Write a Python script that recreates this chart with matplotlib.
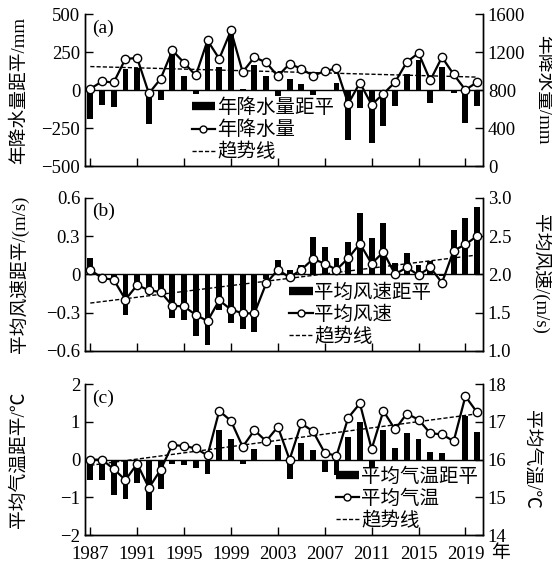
# Libraries
import numpy as np
import matplotlib
matplotlib.use("Agg")
import matplotlib.pyplot as plt
from matplotlib.lines import Line2D
from matplotlib.transforms import blended_transform_factory

# Fonts: Times-like numbers, CJK fallback
plt.rcParams['font.family'] = ['Liberation Serif', 'Noto Sans CJK SC']
plt.rcParams['axes.unicode_minus'] = True

# Data
years = list(range(1987, 2021))
year_ticks = [1987, 1991, 1995, 1999, 2003, 2007, 2011, 2015, 2019]

precip_anom = [-188, -101, -112, 140, 145, -221, -68, 255, 94, -24, 330, 151, 405, 5, 162, 96, -39,
               75, 37, -35, 3, 44, -331, -116, -348, -239, -103, 107, 199, -83, 155, -20, -217, -107]
precip = [814, 891, 881, 1130, 1137, 765, 919, 1218, 1088, 954, 1323, 1130, 1428, 990, 1147, 1091, 947,
          1077, 1025, 951, 1000, 1028, 656, 877, 646, 761, 884, 1095, 1190, 902, 1147, 965, 803, 884]

wind_anom = [0.126, -0.01, -0.03, -0.315, -0.084, -0.145, -0.15, -0.342, -0.355, -0.484, -0.552, -0.276,
             -0.381, -0.429, -0.455, -0.04, 0.113, 0.034, 0.071, 0.292, 0.213, 0.129, 0.25, 0.481, 0.287,
             0.40, 0.087, 0.166, 0.071, 0.108, -0.01, 0.35, 0.44, 0.526]
wind = [2.06, 1.95, 1.93, 1.67, 1.86, 1.79, 1.77, 1.59, 1.58, 1.47, 1.39, 1.66, 1.54, 1.49, 1.49, 1.88, 2.06,
        1.96, 2.06, 2.20, 2.14, 2.06, 2.21, 2.40, 2.14, 2.29, 2.00, 2.09, 1.99, 2.09, 1.89, 2.31, 2.39, 2.50]

temp_anom = [-0.54, -0.54, -0.95, -1.04, -0.63, -1.33, -0.78, -0.12, -0.14, -0.21, -0.38, 0.78, 0.54, -0.12,
             0.28, 0.0, 0.38, -0.51, 0.45, 0.26, -0.33, -0.40, 0.61, 0.99, -0.20, 0.79, 0.32, 0.71, 0.55,
             0.19, 0.17, -0.01, 1.17, 0.74]
temp = [16.0, 16.0, 15.75, 15.46, 15.89, 15.25, 15.73, 16.39, 16.36, 16.30, 16.11, 17.29, 17.03, 16.34, 16.78,
        16.49, 16.87, 16.0, 16.96, 16.75, 16.18, 16.10, 17.11, 17.49, 16.28, 17.29, 16.80, 17.22, 17.06,
        16.70, 16.67, 16.49, 17.68, 17.25]

# Panel settings
panels = [
    dict(tag="(a)", anom=precip_anom, vals=precip,
         left_lim=(-500, 500), left_ticks=[-500, -250, 0, 250, 500], left_fmt="{:.0f}",
         right_lim=(0, 1600), right_ticks=[0, 400, 800, 1200, 1600], right_fmt="{:.0f}",
         left_label="年降水量距平/mm", right_label="年降水量/mm",
         names=["年降水量距平", "年降水量", "趋势线"],
         pos=[0.154, 0.706, 0.721, 0.269], leg=(0.268, 0.445), rlab=1.15),
    dict(tag="(b)", anom=wind_anom, vals=wind,
         left_lim=(-0.6, 0.6), left_ticks=[-0.6, -0.3, 0, 0.3, 0.6], left_fmt="{:g}",
         right_lim=(1.0, 3.0), right_ticks=[1.0, 1.5, 2.0, 2.5, 3.0], right_fmt="{:.1f}",
         left_label="平均风速距平/(m/s)", right_label="平均风速/(m/s)",
         names=["平均风速距平", "平均风速", "趋势线"],
         pos=[0.154, 0.379, 0.721, 0.271], leg=(0.513, 0.44), rlab=1.145),
    dict(tag="(c)", anom=temp_anom, vals=temp,
         left_lim=(-2, 2), left_ticks=[-2, -1, 0, 1, 2], left_fmt="{:.0f}",
         right_lim=(14, 18), right_ticks=[14, 15, 16, 17, 18], right_fmt="{:.0f}",
         left_label="平均气温距平/℃", right_label="平均气温/℃",
         names=["平均气温距平", "平均气温", "趋势线"],
         pos=[0.154, 0.053, 0.721, 0.267], leg=(0.63, 0.445), rlab=1.12),
]

fig = plt.figure(figsize=(5.52, 5.65), dpi=100)

for i, p in enumerate(panels):

    # Axes: bars on the left scale, line on the right scale
    ax = fig.add_axes(p["pos"])
    ax2 = ax.twinx()

    ax.bar(years, p["anom"], width=0.5, color="black", zorder=2)
    ax.axhline(0, color="black", lw=1, zorder=1)

    # Trend line from a linear fit
    coef = np.polyfit(years, p["vals"], 1)
    ax2.plot(years, np.polyval(coef, years), color="black", lw=1, ls=(0, (3, 1.5)), zorder=3)
    ax2.plot(years, p["vals"], color="black", lw=1.6, marker="o", ms=6,
             mfc="white", mec="black", mew=1, zorder=4)

    # Limits and ticks
    ax.set_xlim(1986.55, 2020.5)
    ax.set_ylim(*p["left_lim"])
    ax2.set_ylim(*p["right_lim"])
    ax.set_xticks(year_ticks)
    ax.set_yticks(p["left_ticks"])
    ax.set_yticklabels([p["left_fmt"].format(v).replace("-", "\u2212") for v in p["left_ticks"]])
    ax2.set_yticks(p["right_ticks"])
    ax2.set_yticklabels([p["right_fmt"].format(v) for v in p["right_ticks"]])

    ax.tick_params(direction="in", length=6, width=1, labelsize=13.5, top=False)
    ax.tick_params(axis="x", pad=8)
    ax2.tick_params(direction="in", length=6, width=1, labelsize=13.5)
    if i < 2:
        ax.tick_params(labelbottom=False)

    for a in (ax, ax2):
        a.spines["top"].set_visible(False)
        for s in ("left", "right", "bottom"):
            a.spines[s].set_linewidth(1)

    # Axis labels
    ax.set_ylabel(p["left_label"], fontsize=13.5, va="center", ha="center")
    ax.yaxis.set_label_coords(-0.165, 0.5)
    ax2.set_ylabel(p["right_label"], fontsize=13.5, rotation=270, va="center", ha="center")
    ax2.yaxis.set_label_coords(p["rlab"], 0.5)

    # Panel tag
    ax.text(0.018, 0.965, p["tag"], transform=ax.transAxes, fontsize=14, va="top", ha="left")

    # Legend
    handles = [Line2D([], [], color="black", lw=6, solid_capstyle="butt"),
               Line2D([], [], color="black", lw=1.6, marker="o", ms=5, mfc="white", mec="black"),
               Line2D([], [], color="black", lw=1, ls=(0, (3, 1.5)))]
    ax2.legend(handles, p["names"], loc="upper left", bbox_to_anchor=p["leg"], frameon=False,
               fontsize=14, labelspacing=0.18, handlelength=1.2, handletextpad=0.1,
               borderpad=0, borderaxespad=0)

    # Unit after the last year label
    if i == 2:
        tr = blended_transform_factory(ax.transData, ax.transAxes)
        ax.text(2022.0, -0.12, "年", transform=tr, fontsize=13.5, va="center", ha="center")

fig.savefig("out.png", dpi=100)
